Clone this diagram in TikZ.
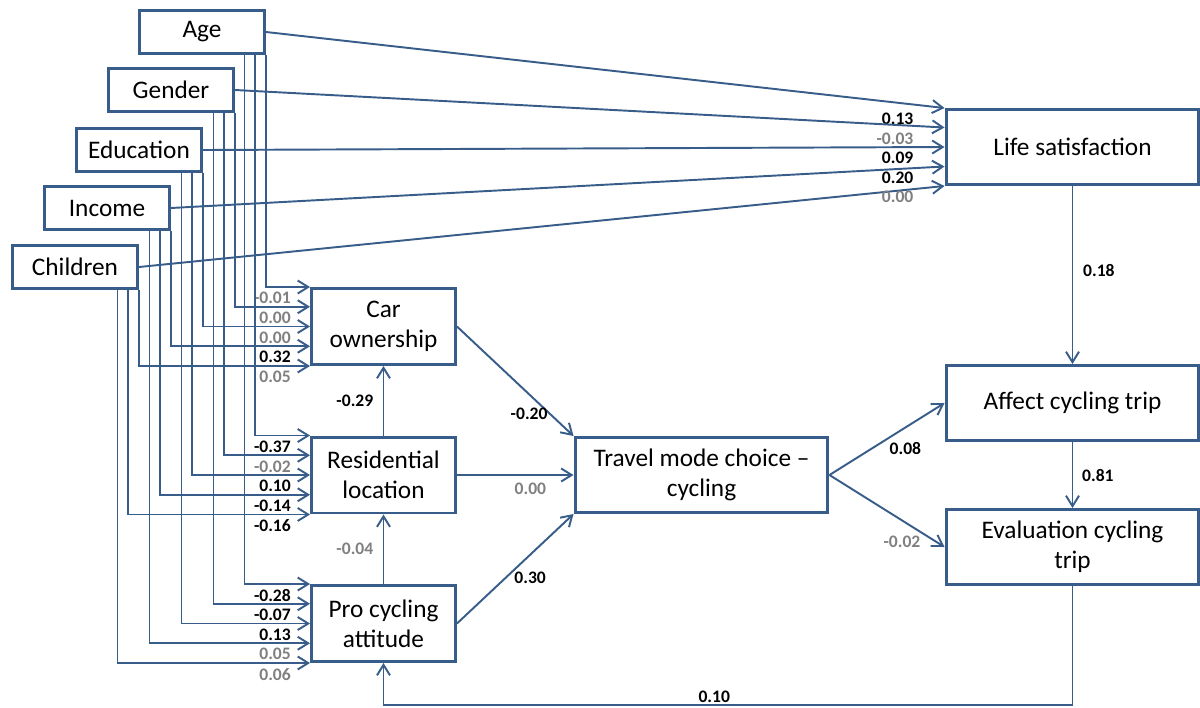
\documentclass[tikz,border=0pt]{standalone}
\usepackage{fontspec}
\setmainfont{Carlito}
\usetikzlibrary{arrows.meta,calc}
\definecolor{boxblue}{RGB}{56,93,138}
\definecolor{nsgray}{RGB}{128,128,128}
\tikzset{
  var/.style={draw=boxblue, line width=1.7pt, fill=white, align=center,
    font=\fontsize{14.4}{17}\selectfont, inner sep=2pt},
  attr/.style={var, minimum width=2.5cm, minimum height=0.86cm},
  medbox/.style={var, minimum width=2.88cm, minimum height=1.52cm},
  widebox/.style={var, minimum width=5.06cm, minimum height=1.5cm},
  conn/.style={draw=boxblue, line width=1.1pt, -{Straight Barb[length=0.21cm,width=0.26cm]}},
  sig/.style={font=\fontsize{10}{12}\selectfont\bfseries, inner sep=1pt},
  ns/.style={sig, text=nsgray},
  llab/.style={pos=1, anchor=north east, xshift=-0.33cm, yshift=-0.05cm},
  rlab/.style={pos=1, anchor=north east, xshift=-0.57cm, yshift=-0.05cm},
}
\begin{document}
\begin{tikzpicture}[x=0.02cm, y=-0.02cm]
\useasboundingbox (0,0) rectangle (1200,707);

% background variables
\node[attr] (age) at (202,32) {Age};
\node[attr] (gender) at (171,90) {Gender};
\node[attr] (educ) at (139,150) {Education};
\node[attr] (income) at (107,208) {Income};
\node[attr] (children) at (75,267) {Children};

% mediators
\node[medbox] (car) at (383.5,326.5) {Car\\ownership};
\node[medbox] (resid) at (383.5,475) {Residential\\location};
\node[medbox] (procyc) at (383.5,623.5) {Pro cycling\\attitude};
\node[widebox] (travel) at (701.5,475) {Travel mode choice --\\cycling};

% outcomes
\node[widebox] (life) at (1072.5,147) {Life satisfaction};
\node[widebox] (affect) at (1072.5,403) {Affect cycling trip};
\node[widebox] (eval) at (1072.5,547) {Evaluation cycling\\trip};

% to car ownership
\draw[conn] (age.south east) |- node[ns, llab] {-0.01} (car.north west);
\draw[conn] (gender.south east) |- node[ns, llab] {0.00} ($(car.north west)!.25!(car.south west)$);
\draw[conn] (educ.south east) |- node[ns, llab] {0.00} ($(car.north west)!.5!(car.south west)$);
\draw[conn] (income.south east) |- node[sig, llab] {0.32} ($(car.north west)!.75!(car.south west)$);
\draw[conn] (children.south east) |- node[ns, llab] {0.05} (car.south west);

% to residential location
\draw[conn] ([xshift=-0.22cm]age.south east) |- node[sig, llab] {-0.37} (resid.north west);
\draw[conn] ([xshift=-0.22cm]gender.south east) |- node[ns, llab] {-0.02} ($(resid.north west)!.25!(resid.south west)$);
\draw[conn] ([xshift=-0.22cm]educ.south east) |- node[sig, llab] {0.10} ($(resid.north west)!.5!(resid.south west)$);
\draw[conn] ([xshift=-0.22cm]income.south east) |- node[sig, llab] {-0.14} ($(resid.north west)!.75!(resid.south west)$);
\draw[conn] ([xshift=-0.22cm]children.south east) |- node[sig, llab] {-0.16} (resid.south west);

% to pro cycling attitude
\draw[conn] ([xshift=-0.43cm]age.south east) |- node[sig, llab] {-0.28} (procyc.north west);
\draw[conn] ([xshift=-0.43cm]gender.south east) |- node[sig, llab] {-0.07} ($(procyc.north west)!.25!(procyc.south west)$);
\draw[conn] ([xshift=-0.43cm]educ.south east) |- node[sig, llab] {0.13} ($(procyc.north west)!.5!(procyc.south west)$);
\draw[conn] ([xshift=-0.43cm]income.south east) |- node[ns, llab] {0.05} ($(procyc.north west)!.75!(procyc.south west)$);
\draw[conn] ([xshift=-0.43cm]children.south east) |- node[ns, llab] {0.06} (procyc.south west);

% to life satisfaction
\draw[conn] (age.east) -- node[sig, rlab] {0.13} (life.north west);
\draw[conn] (gender.east) -- node[ns, rlab] {-0.03} ($(life.north west)!.25!(life.south west)$);
\draw[conn] (educ.east) -- node[sig, rlab] {0.09} ($(life.north west)!.5!(life.south west)$);
\draw[conn] (income.east) -- node[sig, rlab] {0.20} ($(life.north west)!.75!(life.south west)$);
\draw[conn] (children.east) -- node[ns, rlab] {0.00} (life.south west);

% mediators
\draw[conn] (resid) -- node[sig, anchor=east, xshift=-0.15cm] {-0.29} (car);
\draw[conn] (procyc) -- node[ns, anchor=east, xshift=-0.15cm] {-0.04} (resid);
\draw[conn] (car.east) -- node[sig, pos=.8, anchor=east] {-0.20} (travel.north west);
\draw[conn] (resid) -- node[ns, pos=.63, anchor=north, yshift=-0.1cm] {0.00} (travel);
\draw[conn] (procyc.east) -- node[sig, pos=.47, anchor=west, yshift=-0.12cm] {0.30} (travel.south west);

% outcomes
\draw[conn] (travel.east) -- node[sig, pos=.66, anchor=north, yshift=-0.24cm] {0.08} (affect.west);
\draw[conn] (travel.east) -- node[ns, pos=.63, anchor=north, yshift=-0.25cm] {-0.02} (eval.west);
\draw[conn] (life) -- node[sig, anchor=west, xshift=0.16cm, yshift=0.1cm] {0.18} (affect);
\draw[conn] (affect) -- node[sig, anchor=west, xshift=0.14cm] {0.81} (eval);
\coordinate (back) at (1072.5,705);
\draw[conn] (eval.south) -- (back) -| node[sig, pos=.26, above] {0.10} (procyc.south);
\end{tikzpicture}
\end{document}
